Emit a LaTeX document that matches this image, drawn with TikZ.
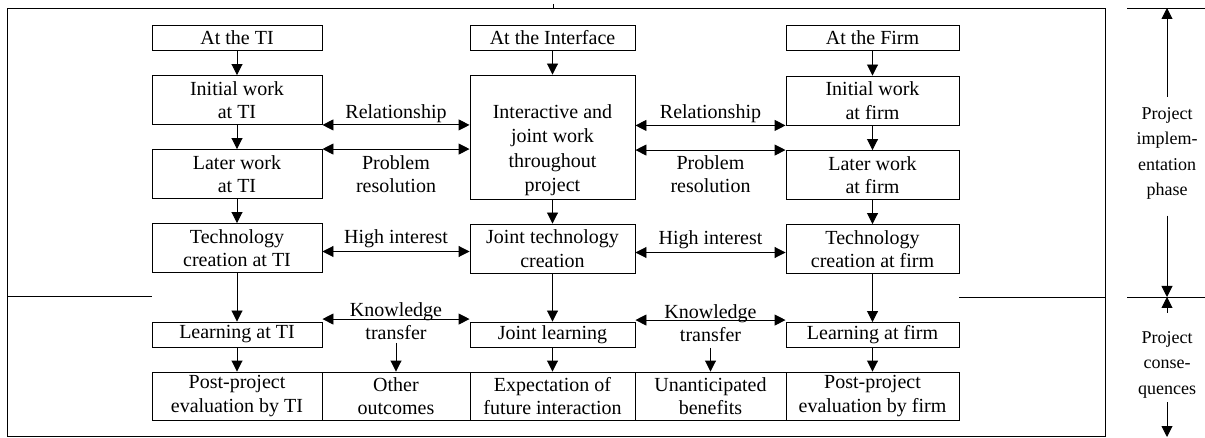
\documentclass[tikz,border=0pt]{standalone}
\usepackage{fontspec}
\setmainfont{Liberation Serif}
\usetikzlibrary{arrows.meta}
\begin{document}
\begin{tikzpicture}[x=1pt,y=-1pt,
  font=\fontsize{20}{23.5}\selectfont,
  box/.style={draw, line width=0.9pt, inner sep=0pt, align=center},
  colL/.style={minimum width=170pt},
  colM/.style={minimum width=165pt},
  colR/.style={minimum width=173pt},
  short/.style={minimum height=25pt},
  tall/.style={minimum height=49pt},
  cell/.style={box, minimum height=48pt},
  lbl/.style={inner sep=0pt, align=center},
  side/.style={font=\fontsize{18}{25.5}\selectfont, align=center, inner sep=3pt},
  arr/.style={-{Triangle[length=11pt,width=11pt]}, line width=0.9pt},
  darr/.style={{Triangle[length=11pt,width=11pt]}-{Triangle[length=11pt,width=11pt]}, line width=0.9pt},
  rule/.style={line width=0.9pt}]
\useasboundingbox (0,0) rectangle (1205,438);

% outer frame and phase dividers
\draw[rule] (7,8) rectangle (1105,436);
\draw[rule] (553,4) -- (553,8);
\draw[rule] (7,296) -- (152,296);
\draw[rule] (959,297) -- (1105,297);

% left column: technology institute
\node[box,colL,short] (ti0) at (237,37.5) {At the TI};
\node[box,colL,tall]  (ti1) at (237,100) {Initial work\\at TI};
\node[box,colL,tall]  (ti2) at (237,174) {Later work\\at TI};
\node[box,colL,tall]  (ti3) at (237,248) {Technology\\creation at TI};
\node[box,colL,short] (ti4) at (237,334.5) {Learning at TI};

% middle column: interface
\node[box,colM,short] (in0) at (552.5,38) {At the Interface};
\node[box,colM,minimum height=124pt] (in1) at (552.5,137) {};
\node[lbl,font=\fontsize{20}{24.5}\selectfont] (in1t) at (552.5,150) {Interactive and\\joint work\\throughout\\project};
\node[box,colM,tall]  (in3) at (552.5,248.5) {Joint technology\\creation};
\node[box,colM,short] (in4) at (552.5,334.5) {Joint learning};

% right column: firm
\node[box,colR,short] (fi0) at (872.5,38) {At the Firm};
\node[box,colR,tall]  (fi1) at (872.5,100.5) {Initial work\\at firm};
\node[box,colR,tall]  (fi2) at (872.5,175) {Later work\\at firm};
\node[box,colR,tall]  (fi3) at (872.5,249) {Technology\\creation at firm};
\node[box,colR,short] (fi4) at (872.5,335) {Learning at firm};

% outcomes strip
\node[cell,minimum width=170pt] (c1) at (237,396)   {Post-project\\evaluation by TI};
\node[cell,minimum width=148pt] (c2) at (396,396)   {Other\\outcomes};
\node[cell,minimum width=165pt] (c3) at (552.5,396) {Expectation of\\future interaction};
\node[cell,minimum width=151pt] (c4) at (710.5,396) {Unanticipated\\benefits};
\node[cell,minimum width=173pt] (c5) at (872.5,396) {Post-project\\evaluation by firm};

% flow down each column
\draw[arr] (ti0.south) -- (ti1.north);
\draw[arr] (ti1.south) -- (ti2.north);
\draw[arr] (ti2.south) -- (ti3.north);
\draw[arr] (ti3.south) -- (ti4.north);
\draw[arr] (ti4.south) -- (c1.north);
\draw[arr] (in0.south) -- (in1.north);
\draw[arr] (in1.south) -- (in3.north);
\draw[arr] (in3.south) -- (in4.north);
\draw[arr] (in4.south) -- (c3.north);
\draw[arr] (fi0.south) -- (fi1.north);
\draw[arr] (fi1.south) -- (fi2.north);
\draw[arr] (fi2.south) -- (fi3.north);
\draw[arr] (fi3.south) -- (fi4.north);
\draw[arr] (fi4.south) -- (c5.north);

% exchanges between the columns
\draw[darr] (ti1.south east) -- (ti1.south east -| in1.west);
\draw[darr] (ti2.north east) -- (ti2.north east -| in1.west);
\draw[darr] (in1.east |- fi1.south) -- (fi1.south west);
\draw[darr] (in1.east |- fi2.north) -- (fi2.north west);
\draw[darr] ([yshift=-3.5pt]ti3.east) -- ([yshift=-3.5pt]ti3.east -| in3.west);
\draw[darr] ([yshift=-4pt]in3.east) -- ([yshift=-4pt]in3.east -| fi3.west);
\draw[darr] ([yshift=2.5pt]ti4.north east) -- ([yshift=2.5pt]ti4.north east -| in4.west);
\draw[darr] ([yshift=1.5pt]in4.north east) -- ([yshift=1.5pt]in4.north east -| fi4.west);

% exchange labels
\node[lbl,anchor=base]  (rel1) at (396,119)   {Relationship};
\node[lbl,anchor=base]  (rel2) at (710.5,119) {Relationship};
\node[lbl,anchor=south] (pr1)  at (396,193)   {Problem\\resolution};
\node[lbl,anchor=south] (pr2)  at (710.5,193) {Problem\\resolution};
\node[lbl,anchor=base]  (hi1)  at (396,243.5) {High interest};
\node[lbl,anchor=base]  (hi2)  at (710.5,245) {High interest};
\node[lbl,anchor=south] (kt1)  at (396,340)   {Knowledge\\transfer};
\node[lbl,anchor=south] (kt2)  at (710.5,342) {Knowledge\\transfer};
\draw[arr] ([yshift=-3pt]kt1.south) -- (c2.north);
\draw[arr] ([yshift=-6pt]kt2.south) -- (c4.north);

% phase scale on the right
\draw[rule] (1127,8) -- (1205,8);
\draw[rule] (1127,297) -- (1205,297);
\coordinate (scTop) at (1167,8);
\coordinate (scMid) at (1167,297);
\coordinate (scBot) at (1167,437);
\node[side,anchor=north] (impl) at (1167,104) {Project\\implem-\\entation\\phase};
\node[side,anchor=north] (cons) at (1167,328) {Project\\conse-\\quences};
\draw[arr] ([yshift=7pt]impl.north) -- (scTop);
\draw[arr] ([yshift=-13pt]impl.south) -- (scMid);
\draw[arr] ([yshift=15pt]cons.north) -- (scMid);
\draw[arr] ([yshift=-1pt]cons.south) -- (scBot);
\end{tikzpicture}
\end{document}
